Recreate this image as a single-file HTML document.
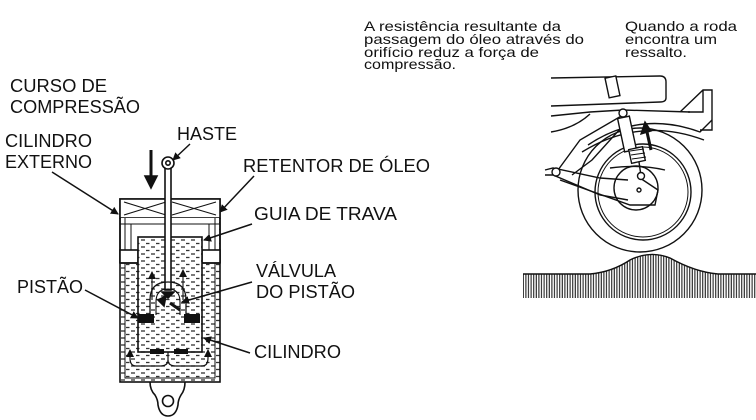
<!DOCTYPE html>
<html><head><meta charset="utf-8"><style>
html,body{margin:0;padding:0;background:#fff}
svg{display:block}
text{font-family:"Liberation Sans",sans-serif;fill:#111}
</style></head><body>
<svg width="756" height="420" viewBox="0 0 756 420" xmlns="http://www.w3.org/2000/svg">
<defs>
<pattern id="fl" width="10" height="7" patternUnits="userSpaceOnUse">
<rect width="10" height="7" fill="#fff"/>
<line x1="1" y1="2" x2="5" y2="2" stroke="#333" stroke-width="1.3"/>
<line x1="6" y1="5.5" x2="9.5" y2="5.5" stroke="#333" stroke-width="1.3"/>
</pattern>
<pattern id="gr" width="2.6" height="10" patternUnits="userSpaceOnUse">
<rect width="2.6" height="10" fill="#fff"/>
<line x1="0.7" y1="0" x2="0.7" y2="10" stroke="#222" stroke-width="1.1"/>
</pattern>
<marker id="ah" markerWidth="8" markerHeight="8" refX="7" refY="4" orient="auto" markerUnits="userSpaceOnUse">
<path d="M0,0 L8,4 L0,8 Z" fill="#111"/>
</marker>
</defs>

<g font-size="18">
<text x="10" y="92" textLength="97" lengthAdjust="spacingAndGlyphs">CURSO DE</text>
<text x="10" y="113" textLength="130" lengthAdjust="spacingAndGlyphs">COMPRESSÃO</text>
<text x="5" y="147" textLength="87" lengthAdjust="spacingAndGlyphs">CILINDRO</text>
<text x="5" y="168" textLength="87" lengthAdjust="spacingAndGlyphs">EXTERNO</text>
<text x="177" y="140" textLength="60" lengthAdjust="spacingAndGlyphs">HASTE</text>
<text x="243" y="172" textLength="187" lengthAdjust="spacingAndGlyphs">RETENTOR DE ÓLEO</text>
<text x="254" y="220" textLength="143" lengthAdjust="spacingAndGlyphs">GUIA DE TRAVA</text>
<text x="256" y="277" textLength="80" lengthAdjust="spacingAndGlyphs">VÁLVULA</text>
<text x="256" y="298" textLength="99" lengthAdjust="spacingAndGlyphs">DO PISTÃO</text>
<text x="17" y="293" textLength="66" lengthAdjust="spacingAndGlyphs">PISTÃO</text>
<text x="254" y="358" textLength="87" lengthAdjust="spacingAndGlyphs">CILINDRO</text>
</g>

<g font-size="14">
<text x="364" y="31" textLength="197" lengthAdjust="spacingAndGlyphs">A resistência resultante da</text>
<text x="364" y="44" textLength="220" lengthAdjust="spacingAndGlyphs">passagem do óleo através do</text>
<text x="364" y="57" textLength="175" lengthAdjust="spacingAndGlyphs">orifício reduz a força de</text>
<text x="364" y="69" textLength="92" lengthAdjust="spacingAndGlyphs">compressão.</text>
<text x="625" y="31" textLength="112" lengthAdjust="spacingAndGlyphs">Quando a roda</text>
<text x="625" y="44" textLength="92" lengthAdjust="spacingAndGlyphs">encontra um</text>
<text x="625" y="57" textLength="62" lengthAdjust="spacingAndGlyphs">ressalto.</text>
</g>

<g stroke="#111" stroke-width="1.6" fill="none">
<path d="M150,382 Q150,390 155,395 Q158,400 158,405 Q160,416 168,416 Q176,416 178,405 Q178,400 181,395 Q185,390 185,382" fill="#fff"/>
<circle cx="168" cy="401" r="5.5"/>
<rect x="120" y="199" width="100" height="183" fill="url(#fl)"/>
<rect x="125" y="218" width="90" height="160" fill="url(#fl)" stroke-width="1"/>
<rect x="120" y="199" width="100" height="19" fill="#fff"/>
<path d="M124,202 L166,215 M124,215 L166,202 M172,202 L216,215 M172,215 L216,202" stroke-width="1.1"/>
<rect x="121" y="218" width="98" height="45" fill="#fff" stroke="none"/>
<line x1="120" y1="218" x2="120" y2="263"/><line x1="220" y1="218" x2="220" y2="263"/>
<line x1="125" y1="218" x2="125" y2="250" stroke-width="1"/><line x1="215" y1="218" x2="215" y2="250" stroke-width="1"/>
<line x1="120" y1="224" x2="220" y2="224" stroke-width="1"/>
<line x1="131" y1="224" x2="131" y2="250" stroke-width="1"/><line x1="209" y1="224" x2="209" y2="250" stroke-width="1"/>
<rect x="120" y="250" width="18" height="13" fill="#fff"/>
<rect x="202" y="250" width="18" height="13" fill="#fff"/>
<line x1="120" y1="263" x2="220" y2="263"/>
<rect x="138" y="237" width="64" height="115" fill="url(#fl)"/>
<rect x="165" y="168" width="6" height="122" fill="#fff"/>
<circle cx="168" cy="163" r="6" fill="#fff"/>
<circle cx="168" cy="163" r="2.2"/>
<path d="M150,315 L150,300 Q150,282 168,282 Q186,282 186,300 L186,315" stroke-width="1.3"/>
<path d="M156,315 L156,302 Q156,289 168,289 Q180,289 180,302 L180,315" stroke-width="1.1"/>
<path d="M162,292 L174,292 L168,298 Z" fill="#111"/>
<path d="M158,300 L166,296 L164,306 Z" fill="#111"/>
<path d="M170,303 L180,310" stroke-width="3"/>
<rect x="138" y="314" width="16" height="9" fill="#111" stroke="none"/>
<rect x="184" y="314" width="16" height="9" fill="#111" stroke="none"/>
<rect x="150" y="349" width="14" height="5" fill="#111" stroke="none"/>
<rect x="174" y="349" width="14" height="5" fill="#111" stroke="none"/>
<path d="M168,352 L168,360 Q168,366 160,366 L136,366 Q130,366 130,358 L130,350" stroke-width="1.2" marker-end="url(#ah)"/>
<path d="M168,360 Q168,366 176,366 L202,366 Q208,366 208,358 L208,350" stroke-width="1.2" marker-end="url(#ah)"/>
<path d="M152,300 L152,272" stroke-width="1.1" marker-end="url(#ah)"/>
<path d="M183,300 L183,270" stroke-width="1.1" marker-end="url(#ah)"/>
<line x1="151" y1="150" x2="151" y2="178" stroke-width="3"/>
<path d="M145,176 L157,176 L151,188 Z" fill="#111"/>
<line x1="52" y1="172" x2="118" y2="214" stroke-width="1.5" marker-end="url(#ah)"/>
<line x1="190" y1="144" x2="173" y2="160" stroke-width="1.5" marker-end="url(#ah)"/>
<line x1="254" y1="176" x2="220" y2="212" stroke-width="1.5" marker-end="url(#ah)"/>
<line x1="252" y1="224" x2="204" y2="240" stroke-width="1.5" marker-end="url(#ah)"/>
<line x1="252" y1="282" x2="182" y2="302" stroke-width="1.5" marker-end="url(#ah)"/>
<line x1="85" y1="290" x2="138" y2="318" stroke-width="1.5" marker-end="url(#ah)"/>
<line x1="250" y1="353" x2="204" y2="338" stroke-width="1.5" marker-end="url(#ah)"/>
</g>

<g stroke="#111" stroke-width="1.4" fill="none">
<path d="M523,274 L590,274 Q612,272 630,260 Q650,250 670,258 Q695,272 718,274 L756,274 L756,298 L523,298 Z" fill="url(#gr)" stroke="none"/>
<path d="M523,274 L590,274 Q612,272 630,260 Q650,250 670,258 Q695,272 718,274 L756,274"/>
<circle cx="640" cy="190" r="62" fill="#fff"/>
<circle cx="643" cy="192" r="48"/>
<circle cx="643" cy="192" r="45" stroke-width="1"/>
<circle cx="636" cy="188" r="22"/>
<path d="M588,145 Q640,110 700,132 L712,120"/>
<path d="M582,152 Q640,116 704,140"/>
<path d="M551,78 L660,76 Q666,76 666,82 L666,98 Q666,102 660,102 L551,106"/>
<rect x="607" y="77" width="11" height="20" transform="rotate(-12 612 87)" fill="#fff"/>
<path d="M680,112 L703,90 L712,90 L712,130 L700,130 M703,90 L703,112 L688,112"/>
<path d="M551,116 L590,112 L623,110 L690,112"/>
<path d="M551,132 Q575,128 590,114"/>
<path d="M623,115 L580,140 L558,170"/>
<path d="M630,118 L592,160 L572,175"/>
<path d="M545,170 L553,168 L600,178 L628,180"/>
<path d="M545,175 L553,175 L600,195 L628,200"/>
<path d="M560,180 L630,205 L655,205 L658,190 L640,178"/>
<circle cx="556" cy="172" r="4" fill="#fff"/>
<path d="M610,168 Q640,164 665,170"/>
<rect x="621" y="117" width="12" height="34" transform="rotate(-12 627 134)" fill="#fff"/>
<rect x="630" y="148" width="14" height="14" transform="rotate(-12 637 155)" fill="#fff"/>
<path d="M630,151 L644,149 M631,155 L645,153 M632,159 L646,157" stroke-width="1"/>
<line x1="639" y1="162" x2="641" y2="176"/>
<circle cx="641" cy="176" r="3.5" fill="#fff"/>
<circle cx="623" cy="113" r="4" fill="#fff"/>
<circle cx="639" cy="190" r="2"/>
<line x1="651" y1="150" x2="647" y2="132" stroke-width="3"/>
<path d="M641,134 L651,131 L645,122 Z" fill="#111"/>
</g>
</svg>
</body></html>
